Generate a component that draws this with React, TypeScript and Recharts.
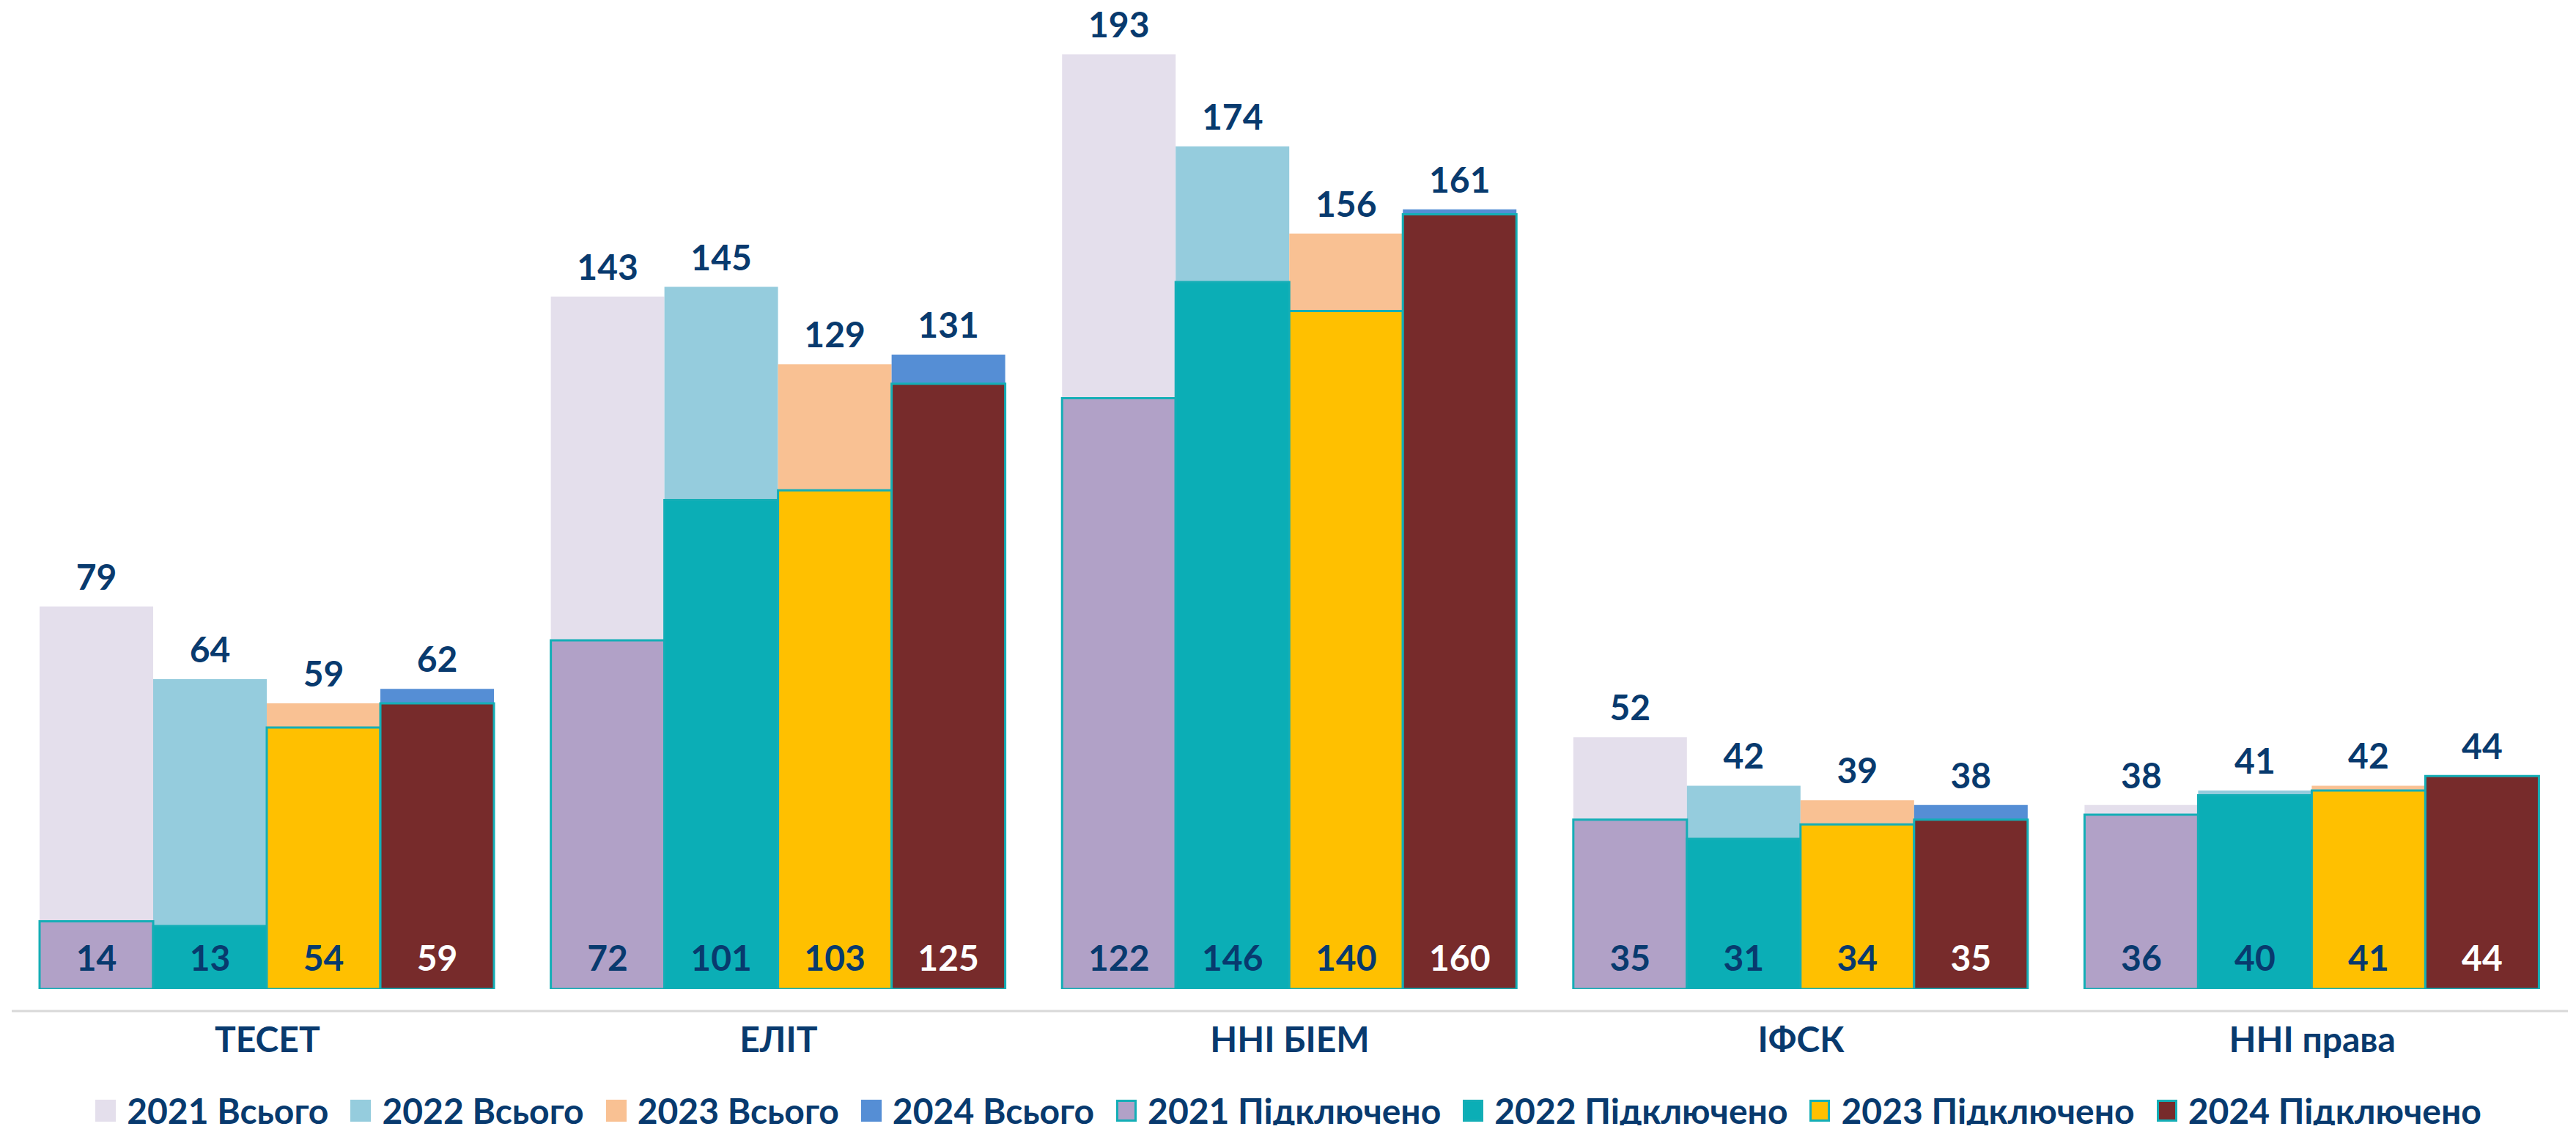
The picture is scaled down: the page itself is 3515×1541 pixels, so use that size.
import React from 'react';
import { BarChart, Bar, XAxis, YAxis, LabelList } from 'recharts';

const categories = ['ТЕСЕТ', 'ЕЛІТ', 'ННІ БІЕМ', 'ІФСК', 'ННІ права'];

const total2021 = [79, 143, 193, 52, 38];
const total2022 = [64, 145, 174, 42, 41];
const total2023 = [59, 129, 156, 39, 42];
const total2024 = [62, 131, 161, 38, 44];

const conn2021 = [14, 72, 122, 35, 36];
const conn2022 = [13, 101, 146, 31, 40];
const conn2023 = [54, 103, 140, 34, 41];
const conn2024 = [59, 125, 160, 35, 44];

const seriesNames = [
  '2021 Всього',
  '2022 Всього',
  '2023 Всього',
  '2024 Всього',
  '2021 Підключено',
  '2022 Підключено',
  '2023 Підключено',
  '2024 Підключено',
];

const data = categories.map((name, i) => ({
  name,
  t2021: total2021[i],
  t2022: total2022[i],
  t2023: total2023[i],
  t2024: total2024[i],
  c2021: conn2021[i],
  c2022: conn2022[i],
  c2023: conn2023[i],
  c2024: conn2024[i],
}));

const FONT = "Lato, 'Open Sans', sans-serif";
const NAVY = '#083A6E';
const TEAL_BORDER = '#14AEB6';

const totalSeries = [
  { key: 't2021', name: seriesNames[0], color: '#E4DFEC' },
  { key: 't2022', name: seriesNames[1], color: '#95CCDD' },
  { key: 't2023', name: seriesNames[2], color: '#F9C193' },
  { key: 't2024', name: seriesNames[3], color: '#558ED5' },
];

const connSeries = [
  { key: 'c2021', name: seriesNames[4], color: '#B1A1C7', labelColor: NAVY },
  { key: 'c2022', name: seriesNames[5], color: '#0BAEB6', labelColor: NAVY },
  { key: 'c2023', name: seriesNames[6], color: '#FFC000', labelColor: NAVY },
  { key: 'c2024', name: seriesNames[7], color: '#772B2B', labelColor: '#FFFFFF' },
];

const CHART_W = 3500;

function LegendRow() {
  const items = [
    ...totalSeries.map((s) => ({ name: s.name, color: s.color, border: false })),
    ...connSeries.map((s) => ({ name: s.name, color: s.color, border: true })),
  ];
  return (
    <div
      style={{
        width: CHART_W,
        height: 40,
        marginTop: 28,
        display: 'flex',
        justifyContent: 'center',
        alignItems: 'center',
        fontFamily: FONT,
        fontSize: 48,
        fontWeight: 700,
        color: NAVY,
        lineHeight: 1,
        whiteSpace: 'nowrap',
      }}
    >
      {items.map((it, idx) => (
        <div
          key={it.name}
          style={{
            display: 'flex',
            alignItems: 'center',
            marginRight: idx === items.length - 1 ? 0 : 30,
          }}
        >
          <span
            style={{
              display: 'inline-block',
              width: 28,
              height: 30,
              boxSizing: 'border-box',
              background: it.color,
              border: it.border ? `3px solid ${TEAL_BORDER}` : 'none',
              marginRight: 15,
            }}
          />
          <span>{it.name}</span>
        </div>
      ))}
    </div>
  );
}

export default function App() {
  return (
    <div style={{ width: CHART_W, marginTop: -8, background: '#FFFFFF' }}>
      <BarChart
        width={CHART_W}
        height={1468}
        data={data}
        margin={{ top: 28, right: 4, left: 8, bottom: 0 }}
        barCategoryGap="5.45%"
        barGap={0}
      >
        <XAxis
          xAxisId="t"
          dataKey="name"
          interval={0}
          tickLine={false}
          tickSize={0}
          tickMargin={22}
          height={118}
          axisLine={{ stroke: '#D9D9D9', strokeWidth: 3 }}
          tick={{ fill: NAVY, fontSize: 48, fontWeight: 700, fontFamily: FONT }}
        />
        <XAxis xAxisId="c" dataKey="name" hide />
        <YAxis hide domain={[0, 200]} allowDataOverflow />
        {totalSeries.map((s) => (
          <Bar
            key={s.key}
            xAxisId="t"
            dataKey={s.key}
            name={s.name}
            fill={s.color}
            isAnimationActive={false}
          >
            <LabelList
              dataKey={s.key}
              position="top"
              offset={23}
              fill={NAVY}
              fontSize={48}
              fontWeight={700}
              fontFamily={FONT}
            />
          </Bar>
        ))}
        {connSeries.map((s) => (
          <Bar
            key={s.key}
            xAxisId="c"
            dataKey={s.key}
            name={s.name}
            fill={s.color}
            stroke={TEAL_BORDER}
            strokeWidth={3}
            isAnimationActive={false}
          >
            <LabelList
              dataKey={s.key}
              position="insideBottom"
              offset={25}
              fill={s.labelColor}
              fontSize={48}
              fontWeight={700}
              fontFamily={FONT}
            />
          </Bar>
        ))}
      </BarChart>
      <LegendRow />
    </div>
  );
}
